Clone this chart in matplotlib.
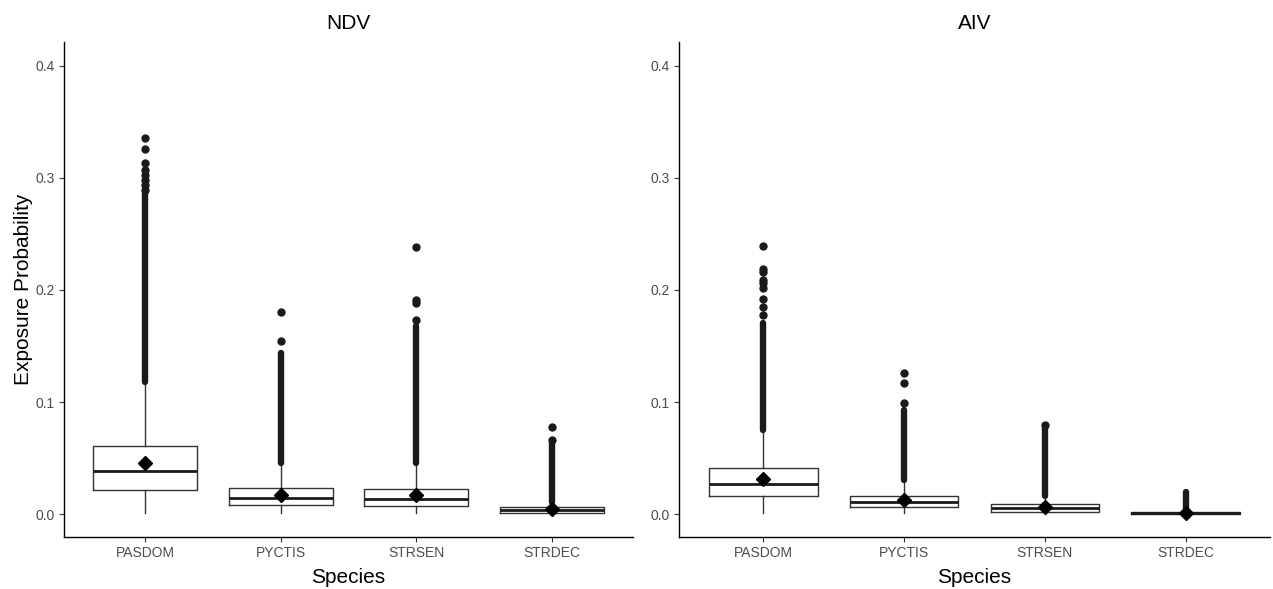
import numpy as np
import matplotlib
matplotlib.use("Agg")
import matplotlib.pyplot as plt

plt.rcParams['font.family'] = ['Liberation Sans', 'DejaVu Sans']

species = ['PASDOM', 'PYCTIS', 'STRSEN', 'STRDEC']

# NDV box statistics
ndv_q1 = [0.0214, 0.0078, 0.0071, 0.0008]
ndv_med = [0.0384, 0.0146, 0.0134, 0.0036]
ndv_q3 = [0.0610, 0.0235, 0.0223, 0.0065]
ndv_wlo = [0.0005, 0.0008, 0.0008, 0.0002]
ndv_whi = [0.118, 0.0455, 0.0455, 0.011]
ndv_mean = [0.0458, 0.0170, 0.0170, 0.0045]
# dense run of outliers (lowest, highest) and separate outliers above it
ndv_band = [(0.118, 0.2863), (0.0455, 0.1435), (0.0455, 0.168), (0.011, 0.0633)]
ndv_out = [[0.2893, 0.2937, 0.2982, 0.3027, 0.3071, 0.3134, 0.3259, 0.3354],
           [0.1545, 0.180],
           [0.173, 0.188, 0.191, 0.238],
           [0.066, 0.0774]]

# AIV box statistics
aiv_q1 = [0.0160, 0.0060, 0.0015, 0.0002]
aiv_med = [0.0268, 0.0104, 0.0051, 0.0008]
aiv_q3 = [0.0410, 0.0164, 0.0089, 0.0015]
aiv_wlo = [0.0005, 0.0008, 0.0003, 0.0]
aiv_whi = [0.0750, 0.0304, 0.0164, 0.0035]
aiv_mean = [0.0310, 0.0125, 0.0065, 0.0006]
aiv_band = [(0.075, 0.1702), (0.0304, 0.0929), (0.0164, 0.077), (0.0035, 0.0195)]
aiv_out = [[0.1777, 0.1851, 0.1917, 0.2015, 0.206, 0.209, 0.2164, 0.2185, 0.2396],
           [0.0988, 0.1173, 0.1262],
           [0.0795],
           []]

panels = [
    ('NDV', ndv_q1, ndv_med, ndv_q3, ndv_wlo, ndv_whi, ndv_mean, ndv_band, ndv_out),
    ('AIV', aiv_q1, aiv_med, aiv_q3, aiv_wlo, aiv_whi, aiv_mean, aiv_band, aiv_out),
]

fig = plt.figure(figsize=(12.73, 5.89), dpi=100)
axes = [fig.add_axes([0.0503, 0.0883, 0.447, 0.8404]),
        fig.add_axes([0.5334, 0.0883, 0.4642, 0.8404])]

edge = '#333333'
for ax, (title, q1, med, q3, wlo, whi, mean, band, out) in zip(axes, panels):
    stats = []
    for i in range(len(species)):
        stats.append(dict(med=med[i], q1=q1[i], q3=q3[i], whislo=wlo[i],
                          whishi=whi[i], fliers=out[i]))
    pos = np.arange(1, len(species) + 1)
    ax.bxp(stats, positions=pos, widths=0.77, showcaps=False,
           boxprops=dict(color=edge, linewidth=1.0),
           whiskerprops=dict(color=edge, linewidth=1.0),
           medianprops=dict(color='#1a1a1a', linewidth=2.0),
           flierprops=dict(marker='o', markerfacecolor='#1a1a1a',
                           markeredgecolor='#1a1a1a', markersize=5),
           zorder=2)
    for p, (lo, hi) in zip(pos, band):
        ax.plot([p, p], [lo, hi], color='#1a1a1a', linewidth=4.6,
                solid_capstyle='round', zorder=3)
    ax.plot(pos, mean, linestyle='none', marker='D', markersize=7,
            color='black', zorder=4)

    ax.set_xlim(0.4, 4.6)
    ax.set_ylim(-0.0205, 0.4214)
    ax.set_xticks(pos)
    ax.set_xticklabels(species)
    ax.set_yticks([0.0, 0.1, 0.2, 0.3, 0.4])
    ax.set_yticklabels(['0.0', '0.1', '0.2', '0.3', '0.4'])
    ax.tick_params(axis='both', colors=edge, labelcolor='#4d4d4d',
                   labelsize=10, length=3.5, width=0.8, pad=3)
    for s in ['top', 'right']:
        ax.spines[s].set_visible(False)
    for s in ['left', 'bottom']:
        ax.spines[s].set_color('black')
        ax.spines[s].set_linewidth(1.0)
    ax.set_title(title, fontsize=15, pad=9)
    ax.set_xlabel('Species', fontsize=15, labelpad=6)

axes[0].set_ylabel('Exposure Probability', fontsize=15, labelpad=2)

fig.savefig('out.png', dpi=100)
